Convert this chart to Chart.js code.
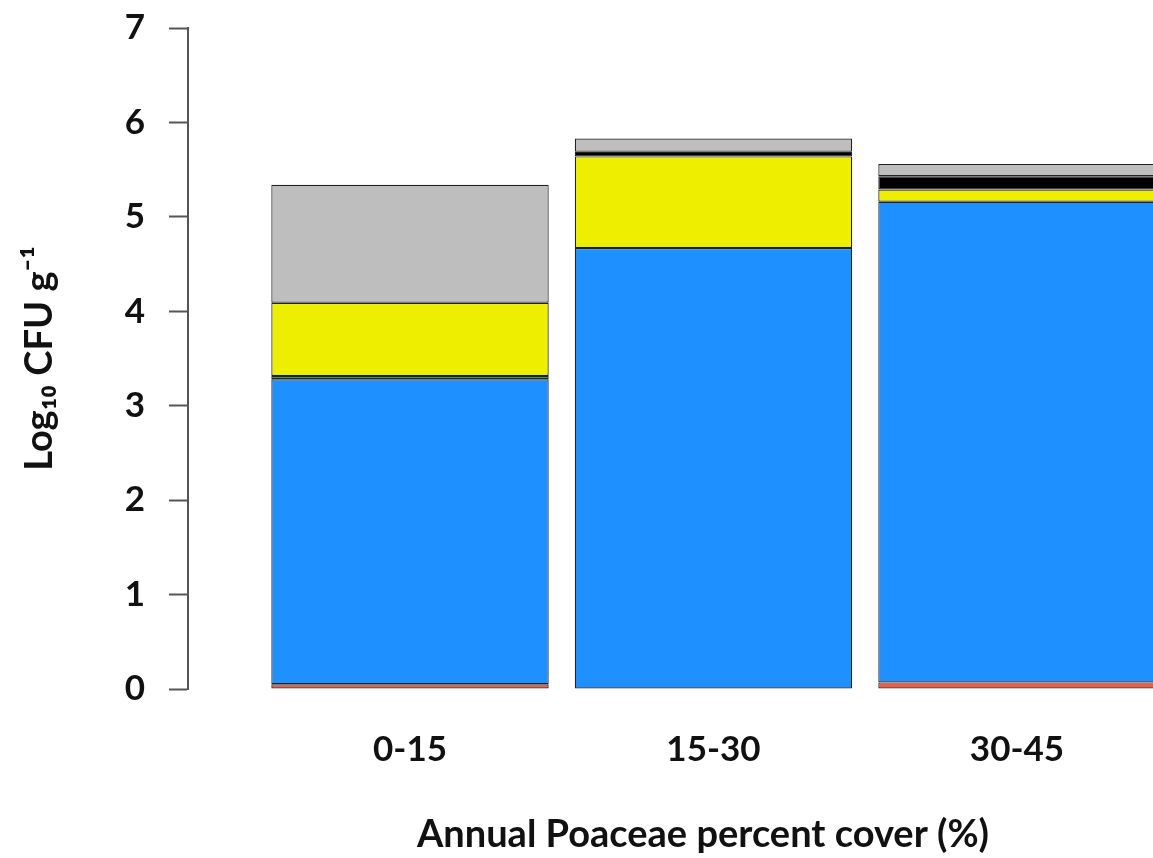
<!DOCTYPE html>
<html lang="en">
<head>
  <meta charset="UTF-8" />
  <title>Log10 CFU by Poaceae cover</title>
  <script src="https://cdn.jsdelivr.net/npm/chart.js"></script>
  <style>
    html, body { margin: 0; padding: 0; background: #fff; overflow: hidden; }
    .wrap { width: 1218px; height: 858px; position: relative; }
  </style>
</head>
<body>
  <div class="wrap"><canvas id="cfuChart"></canvas></div>

  <script>
    // cover classes and stacked segments (bottom to top), log10 CFU/g
    const categories = ['0-15', '15-30', '30-45'];
    const redVals    = [0.05, null, 0.07];
    const blueVals   = [3.23, 4.67, 5.09];
    const tealVals   = [0.035, null, null];
    const yellowVals = [0.775, 0.97, 0.13];
    const blackVals  = [null, 0.05, 0.14];
    const grayVals   = [1.25, 0.14, 0.13];
    const yTicks = [0, 1, 2, 3, 4, 5, 6, 7];

    const series = [
      { vals: redVals, color: '#ee5c42' },
      { vals: blueVals, color: '#1e90ff' },
      { vals: tealVals, color: '#008b7d' },
      { vals: yellowVals, color: '#eeee00' },
      { vals: blackVals, color: '#000000' },
      { vals: grayVals, color: '#bebebe' }
    ];

    const tickFont = { family: 'Lato', weight: 'bold', size: 35 };
    const titleFont = { family: 'Lato', weight: 'bold', size: 38 };

    new Chart(document.getElementById('cfuChart'), {
      type: 'bar',
      data: {
        datasets: series.map(s => ({
          data: s.vals.map((v, i) => ({ x: i + 1, y: v })),
          backgroundColor: s.color,
          borderColor: '#222',
          borderWidth: 1.2,
          borderSkipped: false,
          barPercentage: 0.914,
          categoryPercentage: 1
        }))
      },
      options: {
        responsive: true,
        maintainAspectRatio: false,
        animation: false,
        layout: { padding: { top: 28, left: 0, right: 0, bottom: 0 } },
        plugins: { legend: { display: false }, tooltip: { enabled: false } },
        scales: {
          x: {
            type: 'linear',
            stacked: true,
            offset: false,
            min: 0.2685,
            max: 3.6623,
            afterBuildTicks: axis => { axis.ticks = categories.map((c, i) => ({ value: i + 1 })); },
            afterFit: axis => { axis.height = 169; },
            grid: { display: false, drawTicks: false },
            border: { display: false },
            ticks: {
              padding: 40,
              color: '#111',
              font: tickFont,
              maxRotation: 0,
              callback: v => categories[v - 1] || ''
            },
            title: {
              display: true,
              text: 'Annual Poaceae percent cover (%)',
              color: '#111',
              font: titleFont,
              padding: { top: 0, bottom: 0 }
            }
          },
          y: {
            stacked: true,
            min: 0,
            max: 7,
            afterBuildTicks: axis => { axis.ticks = yTicks.map(v => ({ value: v })); },
            afterFit: axis => {
              axis.width = 188;
              axis.paddingTop = 0;
              axis.paddingBottom = 0;
            },
            grid: { drawOnChartArea: false, tickLength: 19, tickColor: '#555', tickWidth: 2 },
            border: { display: true, color: '#555', width: 2 },
            ticks: { padding: 24, color: '#111', font: tickFont },
            title: {
              display: true,
              text: 'Log₁₀ CFU g⁻¹',
              color: '#111',
              font: titleFont,
              padding: { top: 17, bottom: 0 }
            }
          }
        }
      }
    });
  </script>
</body>
</html>
